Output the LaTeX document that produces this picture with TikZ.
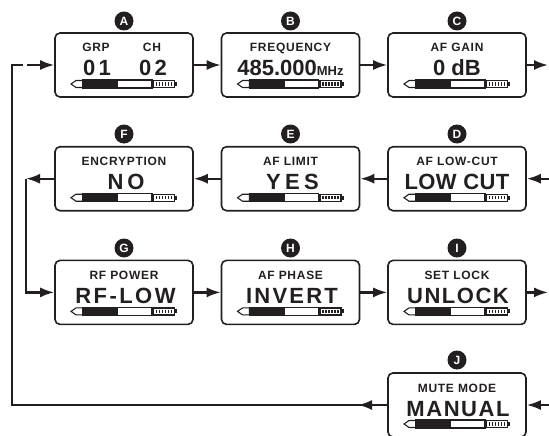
\documentclass[tikz,border=0pt]{standalone}
\usepackage{fontspec}
\setmainfont{Liberation Sans}
\usepackage{xcolor}
\usepackage{tikz}
\usetikzlibrary{arrows.meta}
\definecolor{ink}{RGB}{35,31,32}

\begin{document}
\begin{tikzpicture}[x=1pt,y=-1pt,
  screen/.style={draw=ink, line width=1.6pt, rounded corners=5pt, minimum width=138pt, minimum height=64pt, inner sep=0pt},
  tag/.style={circle, fill=ink, text=white, minimum size=19pt, inner sep=0pt, font=\bfseries\fontsize{12}{12}\selectfont},
  ttl/.style={anchor=base, text=ink, inner sep=0pt, font=\bfseries\fontsize{12}{12}\selectfont\addfontfeature{LetterSpace=6}},
  val/.style={anchor=base, text=ink, inner sep=0pt, font=\bfseries\fontsize{22}{22}\selectfont\addfontfeature{LetterSpace=#1}},
  val/.default=0,
  flow/.style={draw=ink, line width=2.2pt, -{Latex[length=14pt,width=10pt]}},
  wire/.style={draw=ink, line width=2.2pt}]
\useasboundingbox (0,0) rectangle (549,436);
% screens
\node [screen] (a) at (124,65) {};
\node [screen] (b) at (290.5,65) {};
\node [screen] (c) at (457,65) {};
\node [screen] (f) at (124,178.7) {};
\node [screen] (e) at (290.5,178.7) {};
\node [screen] (d) at (457,178.7) {};
\node [screen] (g) at (124,292.4) {};
\node [screen] (h) at (290.5,292.4) {};
\node [screen] (i) at (457,292.4) {};
\node [screen] (j) at (457,405) {};
% letters
\node [tag] (ta) at (124,21) {A};
\node [tag] (tb) at (290.5,21) {B};
\node [tag] (tc) at (457,21) {C};
\node [tag] (tf) at (124,134) {F};
\node [tag] (te) at (290.5,134) {E};
\node [tag] (td) at (457,134) {D};
\node [tag] (tg) at (124,248) {G};
\node [tag] (th) at (290.5,248) {H};
\node [tag] (ti) at (457,248) {I};
\node [tag] (tj) at (457,360) {J};
% titles
\node [ttl] (a1) at (96,52) {GRP};
\node [ttl] (a2) at (152,52) {CH};
\node [ttl] (b1) at (290.5,52) {FREQUENCY};
\node [ttl] (c1) at (457,52) {AF GAIN};
\node [ttl] (f1) at (124,165.7) {ENCRYPTION};
\node [ttl] (e1) at (290.5,165.7) {AF LIMIT};
\node [ttl] (d1) at (457,165.7) {AF LOW-CUT};
\node [ttl] (g1) at (124,279.4) {RF POWER};
\node [ttl] (h1) at (290.5,279.4) {AF PHASE};
\node [ttl] (i1) at (457,279.4) {SET LOCK};
\node [ttl] (j1) at (457,392) {MUTE MODE};
% values
\node [val=16] (a3) at (97,76) {01};
\node [val=16] (a4) at (153,76) {02};
\node [val] (b2) at (290.5,76) {485.000{\fontsize{13}{13}\selectfont MHz}};
\node [val] (c2) at (457,76) {0 dB};
\node [val=18] (f2) at (126,189.7) {NO};
\node [val=20] (e2) at (292.5,189.7) {YES};
\node [val=2] (d2) at (457,189.7) {LOW CUT};
\node [val=11] (g2) at (125.5,303.4) {RF-LOW};
\node [val=10] (h2) at (292,303.4) {INVERT};
\node [val=7] (i2) at (458,303.4) {UNLOCK};
\node [val=7] (j2) at (458,416) {MANUAL};
% level bars
\foreach \s in {a,b,c,d,e,f,g,h,i,j} {
  \begin{scope}[shift={(\s.center)}, draw=ink, line width=1.1pt]
    \draw (-53,19) -- (-48,15.5) -- (-41,15.5) -- (-41,22.5) -- (-48,22.5) -- cycle;
    \draw (-41,15) rectangle (28,23);
    \fill [ink] (-41,15) rectangle (-6,23);
    \draw [line width=1.3pt] (29.5,15.5) rectangle (50.5,22.5);
    \fill [ink] (50.5,17) rectangle (53,21);
    \foreach \k in {0,...,5}
      \draw [line width=1.1pt] (32.5+\k*3,17.3) -- ++(0,3.4);
  \end{scope}
}
% connectors
\coordinate (cout) at (548,65);
\coordinate (din) at (549,178.7);
\coordinate (fl) at (26,178.7);
\coordinate (iout) at (548,292.4);
\coordinate (jin) at (549,405);
\coordinate (jt) at (358,405);
\coordinate (loop) at (12,405);
\coordinate (gap) at (23,65);
\coordinate (ain) at (27,65);
\draw [flow] (a.east) -- (b.west);
\draw [flow] (b.east) -- (c.west);
\draw [flow] (c.east) -- (cout);
\draw [flow] (din) -- (d.east);
\draw [flow] (d.west) -- (e.east);
\draw [flow] (e.west) -- (f.east);
\draw [flow] (f.west) -- (fl);
\draw [flow] (fl) |- (g.west);
\draw [flow] (g.east) -- (h.west);
\draw [flow] (h.east) -- (i.west);
\draw [flow] (i.east) -- (iout);
\draw [flow] (jin) -- (j.east);
\draw [wire] (j.west) -- (loop) |- (gap);
\draw [flow] (j.west) -- (jt);
\draw [flow] (ain) -- (a.west);
\end{tikzpicture}
\end{document}
